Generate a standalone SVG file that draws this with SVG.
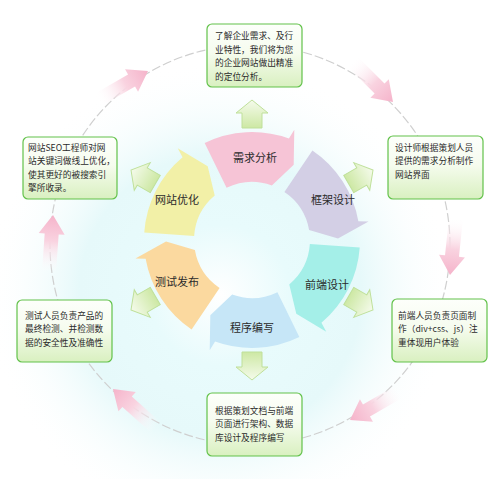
<svg xmlns="http://www.w3.org/2000/svg" xmlns:xlink="http://www.w3.org/1999/xlink" width="500" height="479" viewBox="0 0 500 479">
<style>
.box{fill:url(#boxg);stroke:#62c24a;stroke-width:1.2}
.bt{font-family:"Noto Sans CJK SC","Liberation Sans",sans-serif;font-size:8.7px;fill:#2a2a2a}
.lbl{font-family:"Noto Sans CJK SC","Liberation Sans",sans-serif;font-size:11px;fill:#2a2a2a;text-anchor:middle}
.ga{fill:url(#gg);stroke:#bfe09a;stroke-width:1}
.pa{fill:url(#pg)}
.ring{stroke:none}
</style>
<defs>
<radialGradient id="glow" gradientUnits="userSpaceOnUse" cx="220" cy="295" r="235">
<stop offset="0" stop-color="#ffffff"/>
<stop offset="0.3" stop-color="#e8fbfc"/>
<stop offset="0.6" stop-color="#e6f9fa"/>
<stop offset="1" stop-color="#ffffff" stop-opacity="0"/>
</radialGradient>
<linearGradient id="boxg" x1="0" y1="0" x2="0" y2="1">
<stop offset="0" stop-color="#fdfffb"/>
<stop offset="0.45" stop-color="#f6fcef"/>
<stop offset="1" stop-color="#d9f0c0"/>
</linearGradient>
<linearGradient id="gg" gradientUnits="userSpaceOnUse" x1="-28" y1="0" x2="0" y2="0">
<stop offset="0" stop-color="#cde8a4"/>
<stop offset="1" stop-color="#f5fbec"/>
</linearGradient>
<linearGradient id="pg" gradientUnits="userSpaceOnUse" x1="-58" y1="0" x2="0" y2="0">
<stop offset="0" stop-color="#ffffff" stop-opacity="0"/>
<stop offset="0.55" stop-color="#f9d3e0"/>
<stop offset="1" stop-color="#f5b3ca"/>
</linearGradient>
<path id="parrow" d="M0,0 L-19,-13 L-19,-7 L-58,-7 L-58,7 L-19,7 L-19,13 Z"/>
<path id="garrow" d="M0,0 L-13,-16 L-13,-10 L-28,-10 L-28,10 L-13,10 L-13,16 Z"/>
<path id="seg" d="M204.65,142.93 A108,108 0 0 1 288.94,138.51 L294.29,129.84 L293.69,164.78 L271.84,185.5 A58,58 0 0 0 226.57,187.87 Z"/>
</defs>

<rect x="0" y="0" width="500" height="479" fill="#ffffff"/>
<circle cx="220" cy="295" r="235" fill="url(#glow)"/>

<g id="connectors">
<circle cx="250" cy="245" r="200" fill="none" stroke="#cfcfcf" stroke-width="1.2" stroke-dasharray="9 3"/>
<use xlink:href="#parrow" class="pa" transform="translate(148,71) rotate(-30)"/>
<use xlink:href="#parrow" class="pa" transform="translate(393,102) rotate(45)"/>
<use xlink:href="#parrow" class="pa" transform="translate(450,275) rotate(96)"/>
<use xlink:href="#parrow" class="pa" transform="translate(350,420) rotate(150)"/>
<use xlink:href="#parrow" class="pa" transform="translate(113,389) rotate(222)"/>
<use xlink:href="#parrow" class="pa" transform="translate(53,215) rotate(274)"/>
<use xlink:href="#garrow" class="ga" transform="translate(252,100) rotate(-90)"/>
<use xlink:href="#garrow" class="ga" transform="translate(373,170) rotate(-30)"/>
<use xlink:href="#garrow" class="ga" transform="translate(373,310) rotate(30)"/>
<use xlink:href="#garrow" class="ga" transform="translate(252,380) rotate(90)"/>
<use xlink:href="#garrow" class="ga" transform="translate(131,310) rotate(150)"/>
<use xlink:href="#garrow" class="ga" transform="translate(131,170) rotate(210)"/>
</g>

<g id="ring-xuqiu"><use xlink:href="#seg" class="ring" fill="#f6c4d6"/><text class="lbl" x="255" y="162">需求分析</text></g>
<g id="ring-kuangjia"><use xlink:href="#seg" class="ring" fill="#d3cfe5" transform="rotate(60 252 240)"/><text class="lbl" x="333" y="204">框架设计</text></g>
<g id="ring-qianduan"><use xlink:href="#seg" class="ring" fill="#a4efe8" transform="rotate(120 252 240)"/><text class="lbl" x="327" y="289">前端设计</text></g>
<g id="ring-chengxu"><use xlink:href="#seg" class="ring" fill="#c6e6f7" transform="rotate(180 252 240)"/><text class="lbl" x="252" y="332">程序编写</text></g>
<g id="ring-ceshi"><use xlink:href="#seg" class="ring" fill="#fbd99f" transform="rotate(240 252 240)"/><text class="lbl" x="177" y="286">测试发布</text></g>
<g id="ring-youhua"><use xlink:href="#seg" class="ring" fill="#f2f0a7" transform="rotate(300 252 240)"/><text class="lbl" x="177" y="204">网站优化</text></g>

<g id="box-top"><rect class="box" x="207" y="24" width="95" height="63" rx="5"/>
<text class="bt" x="215" y="39">了解企业需求、及行</text>
<text class="bt" x="215" y="52.5">业特性，我们将为您</text>
<text class="bt" x="215" y="66">的企业网站做出精准</text>
<text class="bt" x="215" y="79.5">的定位分析。</text></g>

<g id="box-right-upper"><rect class="box" x="388" y="136" width="95" height="63" rx="5"/>
<text class="bt" x="395" y="150.5">设计师根据策划人员</text>
<text class="bt" x="395" y="164">提供的需求分析制作</text>
<text class="bt" x="395" y="177.5">网站界面</text></g>

<g id="box-right-lower"><rect class="box" x="392" y="299" width="95" height="63" rx="5"/>
<text class="bt" x="398" y="318.5">前端人员负责页面制</text>
<text class="bt" x="398" y="332">作（div+css、js）注</text>
<text class="bt" x="398" y="345.5">重体现用户体验</text></g>

<g id="box-bottom"><rect class="box" x="207" y="393" width="95" height="63" rx="5"/>
<text class="bt" x="215" y="413.5">根据策划文档与前端</text>
<text class="bt" x="215" y="427">页面进行架构、数据</text>
<text class="bt" x="215" y="440.5">库设计及程序编写</text></g>

<g id="box-left-lower"><rect class="box" x="17" y="300" width="95" height="62" rx="5"/>
<text class="bt" x="25" y="318.5">测试人员负责产品的</text>
<text class="bt" x="25" y="332">最终检测、并检测数</text>
<text class="bt" x="25" y="345.5">据的安全性及准确性</text></g>

<g id="box-left-upper"><rect class="box" x="23" y="137" width="94" height="62" rx="5"/>
<text class="bt" x="28" y="150.5">网站SEO工程师对网</text>
<text class="bt" x="28" y="164">站关键词做线上优化，</text>
<text class="bt" x="28" y="177.5">使其更好的被搜索引</text>
<text class="bt" x="28" y="191">擎所收录。</text></g>
</svg>
